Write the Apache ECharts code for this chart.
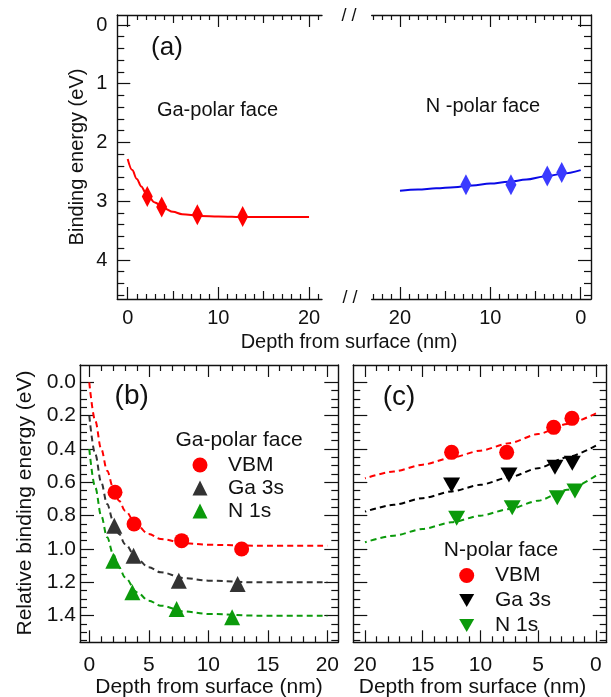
<!DOCTYPE html>
<html><head><meta charset="utf-8">
<script src="https://cdn.jsdelivr.net/npm/echarts@6/dist/echarts.min.js"></script>
<style>html,body{margin:0;padding:0;background:#fff}#c{width:611px;height:697px}</style>
</head><body><div id="c"></div>
<script>
// ---------------- data ----------------
// Panel (a): Ga-polar face (left half, depth increasing)
const gaDepthA   = [2.16, 3.75, 7.68, 12.68];
const gaBindingA = [2.92, 3.10, 3.23, 3.26];
const gaFitDepthA   = [0, 0.5, 1, 1.5, 2, 3, 4, 5, 6, 8, 10, 13, 16, 20];
const gaFitBindingA = [2.28, 2.47, 2.62, 2.75, 2.86, 3.02, 3.12, 3.18, 3.22, 3.25, 3.26, 3.27, 3.27, 3.27];
// Panel (a): N-polar face (right half, depth decreasing)
const nDepthA   = [12.7, 7.72, 3.70, 2.10];
const nBindingA = [2.72, 2.72, 2.57, 2.51];
const nFitDepthA   = [0, 2, 4, 6, 8, 10, 12, 14, 16, 18, 20];
const nFitBindingA = [2.47, 2.53, 2.58, 2.63, 2.67, 2.70, 2.73, 2.76, 2.78, 2.80, 2.82];

// Panel (b): Ga-polar face, relative binding energy
const vbmDepthB  = [2.16, 3.76, 7.76, 12.8];
const vbmB       = [0.66, 0.85, 0.95, 1.00];
const ga3sDepthB = [2.10, 3.72, 7.52, 12.46];
const ga3sB      = [0.86, 1.04, 1.19, 1.21];
const n1sDepthB  = [2.02, 3.62, 7.34, 12.0];
const n1sB       = [1.07, 1.26, 1.36, 1.41];
const fitDepthB   = [0, 0.5, 1, 1.5, 2, 2.5, 3, 4, 5, 6, 8, 10, 14, 20];
const vbmFitB     = [0.00, 0.23, 0.40, 0.53, 0.63, 0.71, 0.77, 0.86, 0.91, 0.94, 0.965, 0.975, 0.98, 0.98];
const ga3sFitB    = [0.20, 0.43, 0.60, 0.73, 0.83, 0.91, 0.97, 1.06, 1.11, 1.14, 1.175, 1.19, 1.20, 1.20];
const n1sFitB     = [0.40, 0.63, 0.80, 0.93, 1.03, 1.11, 1.17, 1.26, 1.31, 1.34, 1.375, 1.39, 1.40, 1.40];

// Panel (c): N-polar face, relative binding energy
const vbmDepthC  = [12.5, 7.73, 3.66, 2.08];
const vbmC       = [0.42, 0.42, 0.27, 0.216];
const ga3sDepthC = [12.5, 7.53, 3.55, 2.05];
const ga3sC      = [0.616, 0.556, 0.51, 0.486];
const n1sDepthC  = [12.06, 7.25, 3.35, 1.82];
const n1sC       = [0.816, 0.752, 0.692, 0.652];
const fitDepthC  = [0, 2.5, 5, 7.5, 10, 12.5, 15, 17.5, 20];
const vbmFitC    = [0.186, 0.25, 0.31, 0.365, 0.41, 0.452, 0.494, 0.535, 0.576];
const ga3sFitC   = [0.38, 0.45, 0.515, 0.57, 0.615, 0.655, 0.695, 0.735, 0.776];
const n1sFitC    = [0.56, 0.645, 0.71, 0.76, 0.80, 0.84, 0.88, 0.92, 0.96];

// tick labels
const depthTicksA = [0, 10, 20];
const depthMidA   = [5, 15];
const energyTicksA = [0, 1, 2, 3, 4];
const depthTicksBC = [0, 5, 10, 15, 20];
const energyTicksBC = [0, 0.2, 0.4, 0.6, 0.8, 1.0, 1.2, 1.4];

// ---------------- helpers ----------------
const FONT = '"Liberation Sans", Arial, Helvetica, sans-serif';
const INK = '#111';
const RED = '#ff0000', BLUE = '#3b3bff', BLUEL = '#0a0ae6', GREEN = '#0b9a0b', GRAY = '#333333';
const DOWN_TRI = 'path://M0,0L16,0L8,14Z';
const zip = (xs, ys) => xs.map((x, i) => [x, ys[i]]);
function steps(a, b, s, skipEvery) {
  const out = [];
  for (let i = 0; ; i++) {
    const v = +(a + i * s).toFixed(4);
    if (v > b + 1e-9) break;
    if (skipEvery && Math.abs(v / skipEvery - Math.round(v / skipEvery)) < 1e-6) continue;
    out.push(v);
  }
  return out;
}
const xAxes = [], yAxes = [];
function ax(list, gi, min, max, inverse, position, o) {
  list.push({
    type: 'value', gridIndex: gi, min: min, max: max, inverse: inverse, position: position,
    axisLine: { show: !!o.line, onZero: false, lineStyle: { color: INK, width: 1.4 } },
    axisTick: { show: !!o.ticks, inside: true, length: o.len || 6, customValues: o.ticks || [],
                lineStyle: { color: INK, width: 1.2 } },
    axisLabel: { show: !!o.labels, customValues: o.labels || [], margin: o.margin == null ? 8 : o.margin,
                 fontSize: o.fs || 20, fontFamily: FONT, color: INK, formatter: o.fmt },
    splitLine: { show: false }
  });
  return list.length - 1;
}

// grid 0: (a) left, grid 1: (a) right, grid 2: (b), grid 3: (c)
const grids = [
  { left: 117.3, top: 15, width: 204.7, height: 284 },
  { left: 371.7, top: 15, width: 219.3, height: 284 },
  { left: 80, top: 365, width: 258.3, height: 277.3 },
  { left: 353.3, top: 365, width: 253.4, height: 277.3 }
].map(g => Object.assign({ outerBoundsMode: 'none', containLabel: false }, g));

const YA = [-0.17, 4.664], YB = [-0.104, 1.56];
const minorYA = steps(0.2, 4.6, 0.2, 1);
const minorYB = steps(0.05, 1.55, 0.05, 0.2);

// (a) left
const xA1 = ax(xAxes, 0, -1.147, 21.43, false, 'bottom', { line: 1, labels: depthTicksA, ticks: depthTicksA, len: 12, margin: 9 });
ax(xAxes, 0, -1.147, 21.43, false, 'bottom', { ticks: depthMidA, len: 8 });
ax(xAxes, 0, -1.147, 21.43, false, 'bottom', { ticks: steps(1, 21, 1, 5), len: 5 });
ax(xAxes, 0, -1.147, 21.43, false, 'top', { line: 1, ticks: depthTicksA, len: 12 });
ax(xAxes, 0, -1.147, 21.43, false, 'top', { ticks: depthMidA, len: 8 });
ax(xAxes, 0, -1.147, 21.43, false, 'top', { ticks: steps(1, 21, 1, 5), len: 5 });
const yA1 = ax(yAxes, 0, YA[0], YA[1], true, 'left', { line: 1, labels: energyTicksA, ticks: energyTicksA, len: 13, margin: 10 });
ax(yAxes, 0, YA[0], YA[1], true, 'left', { ticks: minorYA, len: 7 });

// (a) right
const xA2 = ax(xAxes, 1, -1.14, 23.13, true, 'bottom', { line: 1, labels: depthTicksA, ticks: depthTicksA, len: 12, margin: 9 });
ax(xAxes, 1, -1.14, 23.13, true, 'bottom', { ticks: depthMidA, len: 8 });
ax(xAxes, 1, -1.14, 23.13, true, 'bottom', { ticks: steps(1, 23, 1, 5), len: 5 });
ax(xAxes, 1, -1.14, 23.13, true, 'top', { line: 1, ticks: depthTicksA, len: 12 });
ax(xAxes, 1, -1.14, 23.13, true, 'top', { ticks: depthMidA, len: 8 });
ax(xAxes, 1, -1.14, 23.13, true, 'top', { ticks: steps(1, 23, 1, 5), len: 5 });
const yA2 = ax(yAxes, 1, YA[0], YA[1], true, 'right', { line: 1, ticks: energyTicksA, len: 13 });
ax(yAxes, 1, YA[0], YA[1], true, 'right', { ticks: minorYA, len: 7 });

// (b) and (c)
function panelBC(gi, xmin, xmax, inv, yLabels) {
  const xi = ax(xAxes, gi, xmin, xmax, inv, 'bottom', { line: 1, labels: depthTicksBC, ticks: depthTicksBC, len: 12, margin: 12, fs: 21 });
  ax(xAxes, gi, xmin, xmax, inv, 'bottom', { ticks: steps(1, 20, 1, 5), len: 6 });
  ax(xAxes, gi, xmin, xmax, inv, 'top', { line: 1, ticks: depthTicksBC, len: 12 });
  ax(xAxes, gi, xmin, xmax, inv, 'top', { ticks: steps(1, 20, 1, 5), len: 6 });
  const yi = ax(yAxes, gi, YB[0], YB[1], true, 'left', { line: 1, labels: yLabels ? energyTicksBC : null, ticks: energyTicksBC, len: 14, margin: 4, fs: 21, fmt: v => v.toFixed(1) });
  ax(yAxes, gi, YB[0], YB[1], true, 'left', { ticks: minorYB, len: 7 });
  ax(yAxes, gi, YB[0], YB[1], true, 'right', { line: 1, ticks: energyTicksBC, len: 14 });
  ax(yAxes, gi, YB[0], YB[1], true, 'right', { ticks: minorYB, len: 7 });
  return [xi, yi];
}
const [xB, yB] = panelBC(2, -0.78, 20.92, false, true);
const [xC, yC] = panelBC(3, -0.93, 21.01, true, false);

function fit(xi, yi, data, color, dashed, w, sm) {
  return { type: 'line', xAxisIndex: xi, yAxisIndex: yi, data: data, showSymbol: false, symbol: 'none',
           smooth: sm == null ? 0.35 : sm, smoothMonotone: 'x', z: 2,
           lineStyle: { color: color, width: w || 2, type: dashed ? [6, 4] : 'solid' } };
}
function pts(name, xi, yi, data, color, symbol, size) {
  return { type: 'scatter', name: name, xAxisIndex: xi, yAxisIndex: yi, data: data, symbol: symbol,
           symbolSize: size, z: 3, itemStyle: { color: color, opacity: 1 } };
}

const series = [
  fit(xA1, yA1, zip(gaFitDepthA, gaFitBindingA), RED, false, 2),
  pts('Ga-polar', xA1, yA1, zip(gaDepthA, gaBindingA), RED, 'diamond', [11, 21]),
  fit(xA2, yA2, zip(nFitDepthA, nFitBindingA), BLUEL, false, 2),
  pts('N-polar', xA2, yA2, zip(nDepthA, nBindingA), BLUE, 'diamond', [11, 21]),

  fit(xB, yB, zip(fitDepthB, vbmFitB), RED, true),
  fit(xB, yB, zip(fitDepthB, ga3sFitB), GRAY, true),
  fit(xB, yB, zip(fitDepthB, n1sFitB), GREEN, true),
  pts('VBM', xB, yB, zip(vbmDepthB, vbmB), RED, 'circle', 15),
  pts('Ga 3s', xB, yB, zip(ga3sDepthB, ga3sB), GRAY, 'triangle', 16),
  pts('N 1s', xB, yB, zip(n1sDepthB, n1sB), GREEN, 'triangle', 16),

  fit(xC, yC, zip(fitDepthC, vbmFitC), RED, true, 2, 0.25),
  fit(xC, yC, zip(fitDepthC, ga3sFitC), '#000', true, 2, 0.25),
  fit(xC, yC, zip(fitDepthC, n1sFitC), GREEN, true, 2, 0.25),
  pts('VBM ', xC, yC, zip(vbmDepthC, vbmC), RED, 'circle', 15),
  pts('Ga 3s ', xC, yC, zip(ga3sDepthC, ga3sC), '#000', DOWN_TRI, [17, 15]),
  pts('N 1s ', xC, yC, zip(n1sDepthC, n1sC), GREEN, DOWN_TRI, [17, 15])
];

function legend(items, left, top, gap, pad) {
  return { data: items, orient: 'vertical', left: left, top: top, itemWidth: 15, itemHeight: 15,
           itemGap: gap, selectedMode: false, padding: 0,
           textStyle: { fontSize: 21, fontFamily: FONT, color: INK, padding: [0, 0, 0, pad] } };
}

function txt(text, x, y, size, extra) {
  return Object.assign({ type: 'text', x: x, y: y, silent: true,
    style: { text: text, font: size + 'px ' + FONT, fill: INK, textAlign: 'center', textVerticalAlign: 'middle' } }, extra || {});
}

const graphic = [
  txt('(a)', 167, 48, 26),
  txt('Ga-polar face', 217.5, 110, 20),
  txt('N -polar face', 483, 106.5, 20),
  txt('/ /', 349, 16, 18),
  txt('/ /', 350, 298, 18),
  txt('Binding energy (eV)', 77, 157, 20, { rotation: Math.PI / 2 }),
  txt('Depth from surface (nm)', 349, 342, 20),
  txt('(b)', 131.7, 396.7, 28),
  txt('(c)', 399, 397.5, 28),
  txt('Relative binding energy (eV)', 25, 503, 21, { rotation: Math.PI / 2 }),
  txt('Depth from surface (nm)', 209, 687, 21),
  txt('Depth from surface (nm)', 472.5, 687, 21),
  txt('Ga-polar face', 239, 440, 21),
  txt('N-polar face', 501, 550.7, 21)
];

const chart = echarts.init(document.getElementById('c'), null, { renderer: 'canvas' });
chart.setOption({
  animation: false,
  backgroundColor: '#fff',
  grid: grids,
  xAxis: xAxes,
  yAxis: yAxes,
  legend: [
    legend(['VBM', 'Ga 3s', 'N 1s'], 192.5, 454.5, 2, 15.5),
    legend([{ name: 'VBM ' }, { name: 'Ga 3s ', icon: DOWN_TRI }, { name: 'N 1s ', icon: DOWN_TRI }], 459.2, 565, 4, 15.8)
  ],
  graphic: graphic,
  series: series
});
</script>
</body></html>
